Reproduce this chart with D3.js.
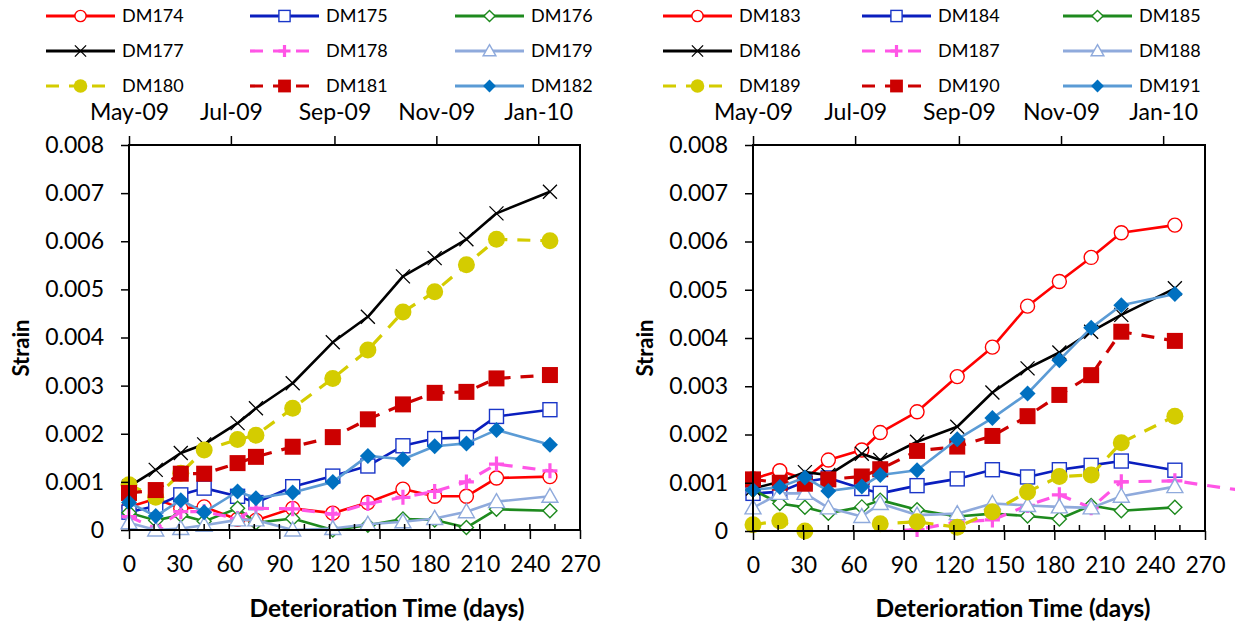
<!DOCTYPE html>
<html><head><meta charset="utf-8">
<script src="https://cdn.jsdelivr.net/npm/d3@7"></script>
<style>
body{margin:0;background:#fff}
svg{display:block}
text{font-family:Lato,"Open Sans",sans-serif;fill:#000}
</style>
</head><body>
<svg id="c" width="1235" height="627"></svg>
<script>
// ---------- DATA ----------
const days = [0, 16, 31, 45, 65, 76, 98, 122, 143, 164, 183, 202, 220, 252];
const days187 = [0, 16, 31, 45, 65, 76, 98, 122, 143, 164, 183, 202, 220, 252, 300];

const leftNames = ["DM174","DM175","DM176","DM177","DM178","DM179","DM180","DM181","DM182"];
const rightNames = ["DM183","DM184","DM185","DM186","DM187","DM188","DM189","DM190","DM191"];

const DM174 = [0.00048,0.00065,0.00045,0.00048,0.00022,0.00020,0.00045,0.00035,0.00057,0.00085,0.00070,0.00070,0.00108,0.00111];
const DM175 = [0.00037,0.00050,0.00073,0.00087,0.00070,0.00057,0.00090,0.00112,0.00133,0.00175,0.00190,0.00192,0.00236,0.00250];
const DM176 = [0.00036,0.00020,0.00031,0.00018,0.00045,0.00015,0.00024,0.00000,0.00010,0.00023,0.00021,0.00005,0.00043,0.00040];
const DM177 = [0.00090,0.00125,0.00160,0.00178,0.00222,0.00253,0.00305,0.00390,0.00443,0.00527,0.00565,0.00604,0.00658,0.00703];
const DM178 = [0.00028,0.00003,0.00038,0.00038,0.00024,0.00045,0.00044,0.00033,0.00055,0.00068,0.00080,0.00100,0.00137,0.00123];
const DM179 = [0.00015,0.00000,0.00003,0.00010,0.00021,0.00021,0.00000,0.00003,0.00012,0.00017,0.00024,0.00038,0.00059,0.00070];
const DM180 = [0.00094,0.00068,0.00118,0.00166,0.00188,0.00197,0.00253,0.00315,0.00374,0.00453,0.00495,0.00551,0.00604,0.00601];
const DM181 = [0.00077,0.00083,0.00117,0.00117,0.00139,0.00152,0.00173,0.00193,0.00230,0.00261,0.00285,0.00287,0.00315,0.00322];
const DM182 = [0.00057,0.00029,0.00062,0.00037,0.00080,0.00066,0.00078,0.00100,0.00154,0.00147,0.00174,0.00180,0.00208,0.00177];

const DM183 = [0.00108,0.00125,0.00108,0.00147,0.00168,0.00204,0.00247,0.00320,0.00381,0.00466,0.00517,0.00567,0.00618,0.00634];
const DM184 = [0.00078,0.00081,0.00102,0.00110,0.00088,0.00078,0.00094,0.00108,0.00127,0.00112,0.00127,0.00136,0.00145,0.00126];
const DM185 = [0.00085,0.00057,0.00049,0.00037,0.00050,0.00064,0.00044,0.00030,0.00036,0.00031,0.00025,0.00053,0.00042,0.00049];
const DM186 = [0.00088,0.00102,0.00122,0.00116,0.00160,0.00147,0.00185,0.00216,0.00287,0.00337,0.00370,0.00413,0.00448,0.00503];
const DM187 = [null,null,null,null,null,-0.00002,0.00003,0.00019,0.00023,0.00053,0.00075,0.00048,0.00102,0.00104,0.00080];
const DM188 = [0.00048,0.00078,0.00078,0.00048,0.00030,0.00057,0.00033,0.00036,0.00057,0.00053,0.00050,0.00048,0.00072,0.00092];
const DM189 = [0.00013,0.00021,0.00000,-0.00030,-0.00030,0.00015,0.00019,0.00008,0.00040,0.00081,0.00113,0.00116,0.00183,0.00238];
const DM190 = [0.00107,0.00100,0.00098,0.00107,0.00113,0.00128,0.00166,0.00175,0.00197,0.00238,0.00282,0.00323,0.00413,0.00394];
const DM191 = [0.00085,0.00091,0.00111,0.00083,0.00092,0.00116,0.00126,0.00190,0.00234,0.00285,0.00354,0.00421,0.00468,0.00491];

const xTicks = [0,30,60,90,120,150,180,210,240,270];
const xMinorTicks = [15,45,75,105,135,165,195,225,255];
const yTicks = [0,0.001,0.002,0.003,0.004,0.005,0.006,0.007,0.008];
const dateTicks = ["2009-05-01","2009-07-01","2009-09-01","2009-11-01","2010-01-01"];
const startDate = "2009-05-01";
const xTitle = "Deterioration Time (days)";
const yTitle = "Strain";

// ---------- STYLES ----------
const styles = [
  {color:"#FF0000", dash:null, marker:"circleOpen", mcolor:"#FF0000"},
  {color:"#0A1EBE", dash:null, marker:"squareOpen", mcolor:"#1A36C8"},
  {color:"#1E8A1E", dash:null, marker:"diamondOpen", mcolor:"#1E8A1E"},
  {color:"#000000", dash:null, marker:"x", mcolor:"#000000"},
  {color:"#FF55E6", dash:"13,10", marker:"plus", mcolor:"#FF55E6"},
  {color:"#8FAADC", dash:null, marker:"triangleOpen", mcolor:"#8FAADC"},
  {color:"#D4CC00", dash:"13,10", marker:"circleFilled", mcolor:"#D4CC00"},
  {color:"#CC0000", dash:"13,10", marker:"squareFilled", mcolor:"#CC0000"},
  {color:"#5B9BD5", dash:null, marker:"diamondFilled", mcolor:"#0070C0"}
];

const panels = [
  {names:leftNames, data:[DM174,DM175,DM176,DM177,DM178,DM179,DM180,DM181,DM182],
   xs:[days,days,days,days,days,days,days,days,days],
   left:129, right:580, top:145, bottom:530,
   legX:[46,250,455], titleX:387, yTitleX:21},
  {names:rightNames, data:[DM183,DM184,DM185,DM186,DM187,DM188,DM189,DM190,DM191],
   xs:[days,days,days,days,days187,days,days,days,days],
   left:753, right:1205, top:145, bottom:531,
   legX:[663,862,1063], titleX:1013, yTitleX:645}
];
const legRows = [16, 51, 86];

const svg = d3.select("#c");

function drawMarker(g, type, col, s){
  s = s || 1;
  switch(type){
    case "circleOpen":
      g.append("circle").attr("r",7*s).attr("fill","#fff").attr("stroke",col).attr("stroke-width",1.4); break;
    case "squareOpen":
      g.append("rect").attr("x",-7*s).attr("y",-7*s).attr("width",14*s).attr("height",14*s)
        .attr("fill","#fff").attr("stroke",col).attr("stroke-width",1.4); break;
    case "diamondOpen":
      g.append("path").attr("d",`M0,${-7*s}L${7*s},0L0,${7*s}L${-7*s},0Z`)
        .attr("fill","#fff").attr("stroke",col).attr("stroke-width",1.4); break;
    case "x":
      g.append("path").attr("d",`M${-7*s},${-7*s}L${7*s},${7*s}M${7*s},${-7*s}L${-7*s},${7*s}`)
        .attr("stroke",col).attr("stroke-width",1.3).attr("fill","none"); break;
    case "plus":
      g.append("path").attr("d",`M${-7.5*s},0L${7.5*s},0M0,${-7.5*s}L0,${7.5*s}`)
        .attr("stroke",col).attr("stroke-width",3.2).attr("fill","none"); break;
    case "triangleOpen":
      g.append("path").attr("d",`M0,${-8*s}L${8*s},${6*s}L${-8*s},${6*s}Z`)
        .attr("fill","#fff").attr("stroke",col).attr("stroke-width",1.4); break;
    case "circleFilled":
      g.append("circle").attr("r",8.5*s).attr("fill",col); break;
    case "squareFilled":
      g.append("rect").attr("x",-8*s).attr("y",-8*s).attr("width",16*s).attr("height",16*s).attr("fill",col); break;
    case "diamondFilled":
      g.append("path").attr("d",`M0,${-8*s}L${8*s},0L0,${8*s}L${-8*s},0Z`).attr("fill",col); break;
  }
}

panels.forEach((p, pi) => {
  const x = d3.scaleLinear().domain([0,270]).range([p.left,p.right]);
  const y = d3.scaleLinear().domain([0,0.008]).range([p.bottom,p.top]);
  const t0 = new Date(startDate+"T00:00:00Z");
  const xt = d3.scaleUtc().domain([t0, d3.utcDay.offset(t0,270)]).range([p.left,p.right]);

  const cid = "clip"+pi;
  svg.append("clipPath").attr("id",cid).append("rect")
    .attr("x",p.left-20).attr("y",p.top).attr("width",1235-p.left+20).attr("height",p.bottom-p.top);

  p.data.forEach((vals, si) => {
    const st = styles[si];
    const xs = p.xs[si];
    const pts = vals.map((v,i)=>({d:xs[i], v}));
    const line = d3.line().defined(o=>o.v!==null).x(o=>x(o.d)).y(o=>y(o.v));
    const g = svg.append("g");
    g.append("path").attr("d",line(pts)).attr("fill","none").attr("stroke",st.color)
      .attr("stroke-width", st.dash?3.2:2.6).attr("stroke-dasharray",st.dash)
      .attr("stroke-linejoin","round").attr("clip-path",`url(#${cid})`);
    pts.filter(o=>o.v!==null && o.v>=0).forEach(o=>{
      const mg = g.append("g").attr("transform",`translate(${x(o.d)},${y(o.v)})`);
      drawMarker(mg, st.marker, st.mcolor, 1);
    });
  });

  const fmt = d => d===0 ? "0" : d3.format(".3f")(d);
  const ya = svg.append("g").attr("transform",`translate(${p.left},0)`)
    .call(d3.axisLeft(y).tickValues(yTicks).tickFormat(fmt).tickSize(8).tickPadding(17));
  const xa = svg.append("g").attr("transform",`translate(0,${p.bottom})`)
    .call(d3.axisBottom(x).tickValues(xTicks).tickSize(9).tickPadding(17));
  const ta = svg.append("g").attr("transform",`translate(0,${p.top})`)
    .call(d3.axisTop(xt).tickValues(dateTicks.map(s=>new Date(s+"T00:00:00Z"))).tickFormat(d3.utcFormat("%b-%y")).tickSize(9).tickPadding(16));
  [ya,xa,ta].forEach(a=>{
    a.select(".domain").remove();
    a.selectAll(".tick line").attr("stroke","#000").attr("stroke-width",1.5);
    a.selectAll(".tick text").attr("font-size",23).attr("fill","#000").style("font-family","Lato");
  });
  const inner = svg.append("g").attr("stroke","#000").attr("stroke-width",1.5);
  xTicks.concat(xMinorTicks).forEach(t=>{
    inner.append("line").attr("x1",x(t)).attr("x2",x(t)).attr("y1",p.bottom).attr("y2",p.bottom-6);
  });
  svg.append("rect").attr("x",p.left).attr("y",p.top).attr("width",p.right-p.left).attr("height",p.bottom-p.top)
    .attr("fill","none").attr("stroke","#000").attr("stroke-width",2);

  svg.append("text").attr("x",p.titleX).attr("y",617).attr("text-anchor","middle")
    .attr("font-size",24.5).attr("font-weight","bold").text(xTitle);
  svg.append("text").attr("transform",`translate(${p.yTitleX},348) rotate(-90)`).attr("text-anchor","middle")
    .attr("dy","0.35em").attr("font-size",22).attr("font-weight","bold").text(yTitle);

  p.names.forEach((nm, i) => {
    const st = styles[i];
    const lx = p.legX[i%3], ly = legRows[Math.floor(i/3)];
    const g = svg.append("g");
    g.append("line").attr("x1",lx).attr("x2",lx+69).attr("y1",ly).attr("y2",ly)
      .attr("stroke",st.color).attr("stroke-width",3.2).attr("stroke-dasharray",st.dash);
    const mg = g.append("g").attr("transform",`translate(${lx+34.5},${ly})`);
    drawMarker(mg, st.marker, st.mcolor, 0.8);
    g.append("text").attr("x",lx+76).attr("y",ly).attr("dy","0.36em").attr("font-size",18).text(nm);
  });
});
</script>
</body></html>
